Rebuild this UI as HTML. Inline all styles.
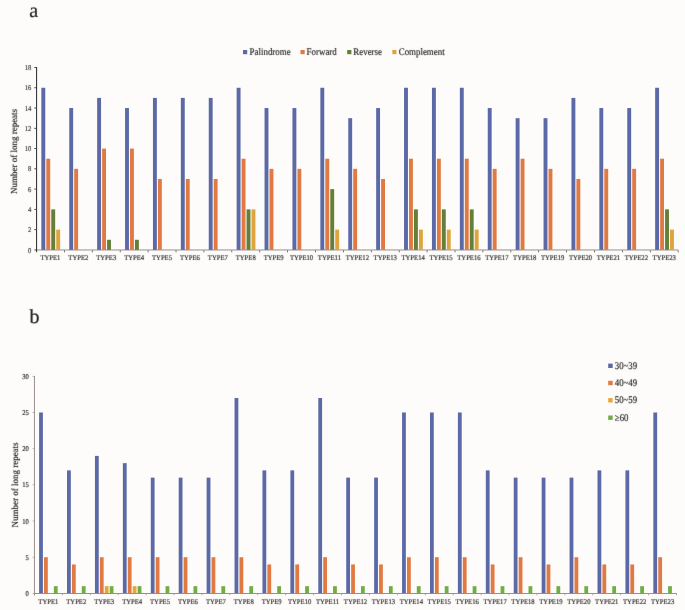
<!DOCTYPE html>
<html><head><meta charset="utf-8"><title>Long repeats</title>
<style>html,body{margin:0;padding:0;background:#fefcfa;}body{width:685px;height:610px;overflow:hidden;font-family:"Liberation Serif",serif;}svg{display:block;}</style>
</head><body>
<svg width="685" height="610" viewBox="0 0 685 610">
<defs><filter id="tf" x="0" y="0" width="685" height="610" filterUnits="userSpaceOnUse" color-interpolation-filters="sRGB"><feColorMatrix type="saturate" values="0"/><feConvolveMatrix order="3" kernelMatrix="0.00524 0.06192 0.00524 0.06192 0.73137 0.06192 0.00524 0.06192 0.00524" preserveAlpha="false"/></filter><filter id="gf" x="0" y="0" width="685" height="610" filterUnits="userSpaceOnUse" color-interpolation-filters="sRGB"><feConvolveMatrix order="3" kernelMatrix="0 0 0 0 1 0 0 0 0" preserveAlpha="false" edgeMode="duplicate"/></filter></defs>
<rect width="685" height="610" fill="#fefcfa"/>
<g>
<rect x="36.5" y="249.2" width="641.7" height="1.5" fill="#b5b5b2"/>
<rect x="41.35" y="87.77" width="3.9" height="162.13" fill="#5b69a7"/>
<rect x="46.31" y="158.7" width="3.9" height="91.2" fill="#e07a42"/>
<rect x="51.27" y="209.37" width="3.9" height="40.53" fill="#657f38"/>
<rect x="56.23" y="229.63" width="3.9" height="20.27" fill="#dea53e"/>
<rect x="69.25" y="108.04" width="3.9" height="141.86" fill="#5b69a7"/>
<rect x="74.21" y="168.84" width="3.9" height="81.06" fill="#e07a42"/>
<rect x="97.15" y="97.91" width="3.9" height="151.99" fill="#5b69a7"/>
<rect x="102.11" y="148.57" width="3.9" height="101.33" fill="#e07a42"/>
<rect x="107.07" y="239.77" width="3.9" height="10.13" fill="#657f38"/>
<rect x="125.05" y="108.04" width="3.9" height="141.86" fill="#5b69a7"/>
<rect x="130.01" y="148.57" width="3.9" height="101.33" fill="#e07a42"/>
<rect x="134.97" y="239.77" width="3.9" height="10.13" fill="#657f38"/>
<rect x="152.95" y="97.91" width="3.9" height="151.99" fill="#5b69a7"/>
<rect x="157.91" y="178.97" width="3.9" height="70.93" fill="#e07a42"/>
<rect x="180.85" y="97.91" width="3.9" height="151.99" fill="#5b69a7"/>
<rect x="185.81" y="178.97" width="3.9" height="70.93" fill="#e07a42"/>
<rect x="208.75" y="97.91" width="3.9" height="151.99" fill="#5b69a7"/>
<rect x="213.71" y="178.97" width="3.9" height="70.93" fill="#e07a42"/>
<rect x="236.65" y="87.77" width="3.9" height="162.13" fill="#5b69a7"/>
<rect x="241.61" y="158.7" width="3.9" height="91.2" fill="#e07a42"/>
<rect x="246.57" y="209.37" width="3.9" height="40.53" fill="#657f38"/>
<rect x="251.53" y="209.37" width="3.9" height="40.53" fill="#dea53e"/>
<rect x="264.55" y="108.04" width="3.9" height="141.86" fill="#5b69a7"/>
<rect x="269.51" y="168.84" width="3.9" height="81.06" fill="#e07a42"/>
<rect x="292.45" y="108.04" width="3.9" height="141.86" fill="#5b69a7"/>
<rect x="297.41" y="168.84" width="3.9" height="81.06" fill="#e07a42"/>
<rect x="320.35" y="87.77" width="3.9" height="162.13" fill="#5b69a7"/>
<rect x="325.31" y="158.7" width="3.9" height="91.2" fill="#e07a42"/>
<rect x="330.27" y="189.1" width="3.9" height="60.8" fill="#657f38"/>
<rect x="335.23" y="229.63" width="3.9" height="20.27" fill="#dea53e"/>
<rect x="348.25" y="118.17" width="3.9" height="131.73" fill="#5b69a7"/>
<rect x="353.21" y="168.84" width="3.9" height="81.06" fill="#e07a42"/>
<rect x="376.15" y="108.04" width="3.9" height="141.86" fill="#5b69a7"/>
<rect x="381.11" y="178.97" width="3.9" height="70.93" fill="#e07a42"/>
<rect x="404.05" y="87.77" width="3.9" height="162.13" fill="#5b69a7"/>
<rect x="409.01" y="158.7" width="3.9" height="91.2" fill="#e07a42"/>
<rect x="413.97" y="209.37" width="3.9" height="40.53" fill="#657f38"/>
<rect x="418.93" y="229.63" width="3.9" height="20.27" fill="#dea53e"/>
<rect x="431.95" y="87.77" width="3.9" height="162.13" fill="#5b69a7"/>
<rect x="436.91" y="158.7" width="3.9" height="91.2" fill="#e07a42"/>
<rect x="441.87" y="209.37" width="3.9" height="40.53" fill="#657f38"/>
<rect x="446.83" y="229.63" width="3.9" height="20.27" fill="#dea53e"/>
<rect x="459.85" y="87.77" width="3.9" height="162.13" fill="#5b69a7"/>
<rect x="464.81" y="158.7" width="3.9" height="91.2" fill="#e07a42"/>
<rect x="469.77" y="209.37" width="3.9" height="40.53" fill="#657f38"/>
<rect x="474.73" y="229.63" width="3.9" height="20.27" fill="#dea53e"/>
<rect x="487.75" y="108.04" width="3.9" height="141.86" fill="#5b69a7"/>
<rect x="492.71" y="168.84" width="3.9" height="81.06" fill="#e07a42"/>
<rect x="515.65" y="118.17" width="3.9" height="131.73" fill="#5b69a7"/>
<rect x="520.61" y="158.7" width="3.9" height="91.2" fill="#e07a42"/>
<rect x="543.55" y="118.17" width="3.9" height="131.73" fill="#5b69a7"/>
<rect x="548.51" y="168.84" width="3.9" height="81.06" fill="#e07a42"/>
<rect x="571.45" y="97.91" width="3.9" height="151.99" fill="#5b69a7"/>
<rect x="576.41" y="178.97" width="3.9" height="70.93" fill="#e07a42"/>
<rect x="599.35" y="108.04" width="3.9" height="141.86" fill="#5b69a7"/>
<rect x="604.31" y="168.84" width="3.9" height="81.06" fill="#e07a42"/>
<rect x="627.25" y="108.04" width="3.9" height="141.86" fill="#5b69a7"/>
<rect x="632.21" y="168.84" width="3.9" height="81.06" fill="#e07a42"/>
<rect x="655.15" y="87.77" width="3.9" height="162.13" fill="#5b69a7"/>
<rect x="660.11" y="158.7" width="3.9" height="91.2" fill="#e07a42"/>
<rect x="665.07" y="209.37" width="3.9" height="40.53" fill="#657f38"/>
<rect x="670.03" y="229.63" width="3.9" height="20.27" fill="#dea53e"/>
<rect x="36.1" y="250.4" width="0.8" height="1.9" fill="#4a4a4a"/>
<rect x="64" y="250.4" width="0.8" height="1.9" fill="#4a4a4a"/>
<rect x="91.9" y="250.4" width="0.8" height="1.9" fill="#4a4a4a"/>
<rect x="119.8" y="250.4" width="0.8" height="1.9" fill="#4a4a4a"/>
<rect x="147.7" y="250.4" width="0.8" height="1.9" fill="#4a4a4a"/>
<rect x="175.6" y="250.4" width="0.8" height="1.9" fill="#4a4a4a"/>
<rect x="203.5" y="250.4" width="0.8" height="1.9" fill="#4a4a4a"/>
<rect x="231.4" y="250.4" width="0.8" height="1.9" fill="#4a4a4a"/>
<rect x="259.3" y="250.4" width="0.8" height="1.9" fill="#4a4a4a"/>
<rect x="287.2" y="250.4" width="0.8" height="1.9" fill="#4a4a4a"/>
<rect x="315.1" y="250.4" width="0.8" height="1.9" fill="#4a4a4a"/>
<rect x="343" y="250.4" width="0.8" height="1.9" fill="#4a4a4a"/>
<rect x="370.9" y="250.4" width="0.8" height="1.9" fill="#4a4a4a"/>
<rect x="398.8" y="250.4" width="0.8" height="1.9" fill="#4a4a4a"/>
<rect x="426.7" y="250.4" width="0.8" height="1.9" fill="#4a4a4a"/>
<rect x="454.6" y="250.4" width="0.8" height="1.9" fill="#4a4a4a"/>
<rect x="482.5" y="250.4" width="0.8" height="1.9" fill="#4a4a4a"/>
<rect x="510.4" y="250.4" width="0.8" height="1.9" fill="#4a4a4a"/>
<rect x="538.3" y="250.4" width="0.8" height="1.9" fill="#4a4a4a"/>
<rect x="566.2" y="250.4" width="0.8" height="1.9" fill="#4a4a4a"/>
<rect x="594.1" y="250.4" width="0.8" height="1.9" fill="#4a4a4a"/>
<rect x="622" y="250.4" width="0.8" height="1.9" fill="#4a4a4a"/>
<rect x="649.9" y="250.4" width="0.8" height="1.9" fill="#4a4a4a"/>
<rect x="677.8" y="250.4" width="0.8" height="1.9" fill="#4a4a4a"/>
<rect x="36" y="67" width="1.1" height="185" fill="#3a3a3a"/>
<rect x="34.3" y="249.45" width="2.2" height="0.9" fill="#3a3a3a"/>
<rect x="34.3" y="229.18" width="2.2" height="0.9" fill="#3a3a3a"/>
<rect x="34.3" y="208.92" width="2.2" height="0.9" fill="#3a3a3a"/>
<rect x="34.3" y="188.65" width="2.2" height="0.9" fill="#3a3a3a"/>
<rect x="34.3" y="168.39" width="2.2" height="0.9" fill="#3a3a3a"/>
<rect x="34.3" y="148.12" width="2.2" height="0.9" fill="#3a3a3a"/>
<rect x="34.3" y="127.85" width="2.2" height="0.9" fill="#3a3a3a"/>
<rect x="34.3" y="107.59" width="2.2" height="0.9" fill="#3a3a3a"/>
<rect x="34.3" y="87.32" width="2.2" height="0.9" fill="#3a3a3a"/>
<rect x="34.3" y="67.06" width="2.2" height="0.9" fill="#3a3a3a"/>
<rect x="39.1" y="412.47" width="3.8" height="180.93" fill="#5b69a7"/>
<rect x="44.02" y="557.21" width="3.8" height="36.19" fill="#e07a42"/>
<rect x="53.86" y="586.16" width="3.8" height="7.24" fill="#6fae45"/>
<rect x="67.02" y="470.37" width="3.8" height="123.03" fill="#5b69a7"/>
<rect x="71.94" y="564.45" width="3.8" height="28.95" fill="#e07a42"/>
<rect x="81.78" y="586.16" width="3.8" height="7.24" fill="#6fae45"/>
<rect x="94.94" y="455.9" width="3.8" height="137.5" fill="#5b69a7"/>
<rect x="99.86" y="557.21" width="3.8" height="36.19" fill="#e07a42"/>
<rect x="104.78" y="586.16" width="3.8" height="7.24" fill="#e3a83c"/>
<rect x="109.7" y="586.16" width="3.8" height="7.24" fill="#6fae45"/>
<rect x="122.86" y="463.13" width="3.8" height="130.27" fill="#5b69a7"/>
<rect x="127.78" y="557.21" width="3.8" height="36.19" fill="#e07a42"/>
<rect x="132.7" y="586.16" width="3.8" height="7.24" fill="#e3a83c"/>
<rect x="137.62" y="586.16" width="3.8" height="7.24" fill="#6fae45"/>
<rect x="150.78" y="477.61" width="3.8" height="115.79" fill="#5b69a7"/>
<rect x="155.7" y="557.21" width="3.8" height="36.19" fill="#e07a42"/>
<rect x="165.54" y="586.16" width="3.8" height="7.24" fill="#6fae45"/>
<rect x="178.7" y="477.61" width="3.8" height="115.79" fill="#5b69a7"/>
<rect x="183.62" y="557.21" width="3.8" height="36.19" fill="#e07a42"/>
<rect x="193.46" y="586.16" width="3.8" height="7.24" fill="#6fae45"/>
<rect x="206.62" y="477.61" width="3.8" height="115.79" fill="#5b69a7"/>
<rect x="211.54" y="557.21" width="3.8" height="36.19" fill="#e07a42"/>
<rect x="221.38" y="586.16" width="3.8" height="7.24" fill="#6fae45"/>
<rect x="234.54" y="398" width="3.8" height="195.4" fill="#5b69a7"/>
<rect x="239.46" y="557.21" width="3.8" height="36.19" fill="#e07a42"/>
<rect x="249.3" y="586.16" width="3.8" height="7.24" fill="#6fae45"/>
<rect x="262.46" y="470.37" width="3.8" height="123.03" fill="#5b69a7"/>
<rect x="267.38" y="564.45" width="3.8" height="28.95" fill="#e07a42"/>
<rect x="277.22" y="586.16" width="3.8" height="7.24" fill="#6fae45"/>
<rect x="290.38" y="470.37" width="3.8" height="123.03" fill="#5b69a7"/>
<rect x="295.3" y="564.45" width="3.8" height="28.95" fill="#e07a42"/>
<rect x="305.14" y="586.16" width="3.8" height="7.24" fill="#6fae45"/>
<rect x="318.3" y="398" width="3.8" height="195.4" fill="#5b69a7"/>
<rect x="323.22" y="557.21" width="3.8" height="36.19" fill="#e07a42"/>
<rect x="333.06" y="586.16" width="3.8" height="7.24" fill="#6fae45"/>
<rect x="346.22" y="477.61" width="3.8" height="115.79" fill="#5b69a7"/>
<rect x="351.14" y="564.45" width="3.8" height="28.95" fill="#e07a42"/>
<rect x="360.98" y="586.16" width="3.8" height="7.24" fill="#6fae45"/>
<rect x="374.14" y="477.61" width="3.8" height="115.79" fill="#5b69a7"/>
<rect x="379.06" y="564.45" width="3.8" height="28.95" fill="#e07a42"/>
<rect x="388.9" y="586.16" width="3.8" height="7.24" fill="#6fae45"/>
<rect x="402.06" y="412.47" width="3.8" height="180.93" fill="#5b69a7"/>
<rect x="406.98" y="557.21" width="3.8" height="36.19" fill="#e07a42"/>
<rect x="416.82" y="586.16" width="3.8" height="7.24" fill="#6fae45"/>
<rect x="429.98" y="412.47" width="3.8" height="180.93" fill="#5b69a7"/>
<rect x="434.9" y="557.21" width="3.8" height="36.19" fill="#e07a42"/>
<rect x="444.74" y="586.16" width="3.8" height="7.24" fill="#6fae45"/>
<rect x="457.9" y="412.47" width="3.8" height="180.93" fill="#5b69a7"/>
<rect x="462.82" y="557.21" width="3.8" height="36.19" fill="#e07a42"/>
<rect x="472.66" y="586.16" width="3.8" height="7.24" fill="#6fae45"/>
<rect x="485.82" y="470.37" width="3.8" height="123.03" fill="#5b69a7"/>
<rect x="490.74" y="564.45" width="3.8" height="28.95" fill="#e07a42"/>
<rect x="500.58" y="586.16" width="3.8" height="7.24" fill="#6fae45"/>
<rect x="513.74" y="477.61" width="3.8" height="115.79" fill="#5b69a7"/>
<rect x="518.66" y="557.21" width="3.8" height="36.19" fill="#e07a42"/>
<rect x="528.5" y="586.16" width="3.8" height="7.24" fill="#6fae45"/>
<rect x="541.66" y="477.61" width="3.8" height="115.79" fill="#5b69a7"/>
<rect x="546.58" y="564.45" width="3.8" height="28.95" fill="#e07a42"/>
<rect x="556.42" y="586.16" width="3.8" height="7.24" fill="#6fae45"/>
<rect x="569.58" y="477.61" width="3.8" height="115.79" fill="#5b69a7"/>
<rect x="574.5" y="557.21" width="3.8" height="36.19" fill="#e07a42"/>
<rect x="584.34" y="586.16" width="3.8" height="7.24" fill="#6fae45"/>
<rect x="597.5" y="470.37" width="3.8" height="123.03" fill="#5b69a7"/>
<rect x="602.42" y="564.45" width="3.8" height="28.95" fill="#e07a42"/>
<rect x="612.26" y="586.16" width="3.8" height="7.24" fill="#6fae45"/>
<rect x="625.42" y="470.37" width="3.8" height="123.03" fill="#5b69a7"/>
<rect x="630.34" y="564.45" width="3.8" height="28.95" fill="#e07a42"/>
<rect x="640.18" y="586.16" width="3.8" height="7.24" fill="#6fae45"/>
<rect x="653.34" y="412.47" width="3.8" height="180.93" fill="#5b69a7"/>
<rect x="658.26" y="557.21" width="3.8" height="36.19" fill="#e07a42"/>
<rect x="668.1" y="586.16" width="3.8" height="7.24" fill="#6fae45"/>
<rect x="34.4" y="593" width="642.16" height="0.9" fill="#8f8482"/>
<rect x="34" y="593.4" width="0.8" height="1.9" fill="#a09492"/>
<rect x="61.92" y="593.4" width="0.8" height="1.9" fill="#a09492"/>
<rect x="89.84" y="593.4" width="0.8" height="1.9" fill="#a09492"/>
<rect x="117.76" y="593.4" width="0.8" height="1.9" fill="#a09492"/>
<rect x="145.68" y="593.4" width="0.8" height="1.9" fill="#a09492"/>
<rect x="173.6" y="593.4" width="0.8" height="1.9" fill="#a09492"/>
<rect x="201.52" y="593.4" width="0.8" height="1.9" fill="#a09492"/>
<rect x="229.44" y="593.4" width="0.8" height="1.9" fill="#a09492"/>
<rect x="257.36" y="593.4" width="0.8" height="1.9" fill="#a09492"/>
<rect x="285.28" y="593.4" width="0.8" height="1.9" fill="#a09492"/>
<rect x="313.2" y="593.4" width="0.8" height="1.9" fill="#a09492"/>
<rect x="341.12" y="593.4" width="0.8" height="1.9" fill="#a09492"/>
<rect x="369.04" y="593.4" width="0.8" height="1.9" fill="#a09492"/>
<rect x="396.96" y="593.4" width="0.8" height="1.9" fill="#a09492"/>
<rect x="424.88" y="593.4" width="0.8" height="1.9" fill="#a09492"/>
<rect x="452.8" y="593.4" width="0.8" height="1.9" fill="#a09492"/>
<rect x="480.72" y="593.4" width="0.8" height="1.9" fill="#a09492"/>
<rect x="508.64" y="593.4" width="0.8" height="1.9" fill="#a09492"/>
<rect x="536.56" y="593.4" width="0.8" height="1.9" fill="#a09492"/>
<rect x="564.48" y="593.4" width="0.8" height="1.9" fill="#a09492"/>
<rect x="592.4" y="593.4" width="0.8" height="1.9" fill="#a09492"/>
<rect x="620.32" y="593.4" width="0.8" height="1.9" fill="#a09492"/>
<rect x="648.24" y="593.4" width="0.8" height="1.9" fill="#a09492"/>
<rect x="676.16" y="593.4" width="0.8" height="1.9" fill="#a09492"/>
<rect x="33.95" y="376" width="0.9" height="219.4" fill="#8f8482"/>
<rect x="32.6" y="593" width="1.8" height="0.8" fill="#a89c9a"/>
<rect x="32.6" y="556.81" width="1.8" height="0.8" fill="#a89c9a"/>
<rect x="32.6" y="520.63" width="1.8" height="0.8" fill="#a89c9a"/>
<rect x="32.6" y="484.44" width="1.8" height="0.8" fill="#a89c9a"/>
<rect x="32.6" y="448.26" width="1.8" height="0.8" fill="#a89c9a"/>
<rect x="32.6" y="412.07" width="1.8" height="0.8" fill="#a89c9a"/>
<rect x="32.6" y="375.89" width="1.8" height="0.8" fill="#a89c9a"/>
<rect x="608.2" y="363.6" width="4.5" height="4.4" fill="#5b69a7"/>
<rect x="608.2" y="380.8" width="4.5" height="4.4" fill="#e07a42"/>
<rect x="608.2" y="398.1" width="4.5" height="4.4" fill="#e3a83c"/>
<rect x="608.2" y="415.5" width="4.5" height="4.4" fill="#6fae45"/>
<rect x="243" y="50" width="4.2" height="4.2" fill="#5b69a7"/>
<rect x="300.5" y="50" width="4.2" height="4.2" fill="#e07a42"/>
<rect x="347.2" y="50" width="4.2" height="4.2" fill="#657f38"/>
<rect x="392.3" y="50" width="4.2" height="4.2" fill="#dea53e"/>
<g font-family="Liberation Serif" fill="#1e1e1e" stroke="#1e1e1e" stroke-width="0.16" filter="url(#tf)" text-rendering="geometricPrecision">
<text x="31.3" y="252.5" font-size="7.4" textLength="3.3" lengthAdjust="spacingAndGlyphs" text-anchor="end" stroke-width="0.14" fill="#2a2a2a" stroke="#2a2a2a" >0</text>
<text x="31.3" y="232.23" font-size="7.4" textLength="3.3" lengthAdjust="spacingAndGlyphs" text-anchor="end" stroke-width="0.14" fill="#2a2a2a" stroke="#2a2a2a" >2</text>
<text x="31.3" y="211.97" font-size="7.4" textLength="3.3" lengthAdjust="spacingAndGlyphs" text-anchor="end" stroke-width="0.14" fill="#2a2a2a" stroke="#2a2a2a" >4</text>
<text x="31.3" y="191.7" font-size="7.4" textLength="3.3" lengthAdjust="spacingAndGlyphs" text-anchor="end" stroke-width="0.14" fill="#2a2a2a" stroke="#2a2a2a" >6</text>
<text x="31.3" y="171.44" font-size="7.4" textLength="3.3" lengthAdjust="spacingAndGlyphs" text-anchor="end" stroke-width="0.14" fill="#2a2a2a" stroke="#2a2a2a" >8</text>
<text x="31.3" y="151.17" font-size="7.4" textLength="6.6" lengthAdjust="spacingAndGlyphs" text-anchor="end" stroke-width="0.14" fill="#2a2a2a" stroke="#2a2a2a" >10</text>
<text x="31.3" y="130.9" font-size="7.4" textLength="6.6" lengthAdjust="spacingAndGlyphs" text-anchor="end" stroke-width="0.14" fill="#2a2a2a" stroke="#2a2a2a" >12</text>
<text x="31.3" y="110.64" font-size="7.4" textLength="6.6" lengthAdjust="spacingAndGlyphs" text-anchor="end" stroke-width="0.14" fill="#2a2a2a" stroke="#2a2a2a" >14</text>
<text x="31.3" y="90.37" font-size="7.4" textLength="6.6" lengthAdjust="spacingAndGlyphs" text-anchor="end" stroke-width="0.14" fill="#2a2a2a" stroke="#2a2a2a" >16</text>
<text x="31.3" y="70.11" font-size="7.4" textLength="6.6" lengthAdjust="spacingAndGlyphs" text-anchor="end" stroke-width="0.14" fill="#2a2a2a" stroke="#2a2a2a" >18</text>
<text x="50.45" y="260.3" font-size="7.3" textLength="19.98" lengthAdjust="spacingAndGlyphs" text-anchor="middle" >TYPE1</text>
<text x="78.35" y="260.3" font-size="7.3" textLength="19.98" lengthAdjust="spacingAndGlyphs" text-anchor="middle" >TYPE2</text>
<text x="106.25" y="260.3" font-size="7.3" textLength="19.98" lengthAdjust="spacingAndGlyphs" text-anchor="middle" >TYPE3</text>
<text x="134.15" y="260.3" font-size="7.3" textLength="19.98" lengthAdjust="spacingAndGlyphs" text-anchor="middle" >TYPE4</text>
<text x="162.05" y="260.3" font-size="7.3" textLength="19.98" lengthAdjust="spacingAndGlyphs" text-anchor="middle" >TYPE5</text>
<text x="189.95" y="260.3" font-size="7.3" textLength="19.98" lengthAdjust="spacingAndGlyphs" text-anchor="middle" >TYPE6</text>
<text x="217.85" y="260.3" font-size="7.3" textLength="19.98" lengthAdjust="spacingAndGlyphs" text-anchor="middle" >TYPE7</text>
<text x="245.75" y="260.3" font-size="7.3" textLength="19.98" lengthAdjust="spacingAndGlyphs" text-anchor="middle" >TYPE8</text>
<text x="273.65" y="260.3" font-size="7.3" textLength="19.98" lengthAdjust="spacingAndGlyphs" text-anchor="middle" >TYPE9</text>
<text x="301.55" y="260.3" font-size="7.3" textLength="23.31" lengthAdjust="spacingAndGlyphs" text-anchor="middle" >TYPE10</text>
<text x="329.45" y="260.3" font-size="7.3" textLength="23.31" lengthAdjust="spacingAndGlyphs" text-anchor="middle" >TYPE11</text>
<text x="357.35" y="260.3" font-size="7.3" textLength="23.31" lengthAdjust="spacingAndGlyphs" text-anchor="middle" >TYPE12</text>
<text x="385.25" y="260.3" font-size="7.3" textLength="23.31" lengthAdjust="spacingAndGlyphs" text-anchor="middle" >TYPE13</text>
<text x="413.15" y="260.3" font-size="7.3" textLength="23.31" lengthAdjust="spacingAndGlyphs" text-anchor="middle" >TYPE14</text>
<text x="441.05" y="260.3" font-size="7.3" textLength="23.31" lengthAdjust="spacingAndGlyphs" text-anchor="middle" >TYPE15</text>
<text x="468.95" y="260.3" font-size="7.3" textLength="23.31" lengthAdjust="spacingAndGlyphs" text-anchor="middle" >TYPE16</text>
<text x="496.85" y="260.3" font-size="7.3" textLength="23.31" lengthAdjust="spacingAndGlyphs" text-anchor="middle" >TYPE17</text>
<text x="524.75" y="260.3" font-size="7.3" textLength="23.31" lengthAdjust="spacingAndGlyphs" text-anchor="middle" >TYPE18</text>
<text x="552.65" y="260.3" font-size="7.3" textLength="23.31" lengthAdjust="spacingAndGlyphs" text-anchor="middle" >TYPE19</text>
<text x="580.55" y="260.3" font-size="7.3" textLength="23.31" lengthAdjust="spacingAndGlyphs" text-anchor="middle" >TYPE20</text>
<text x="608.45" y="260.3" font-size="7.3" textLength="23.31" lengthAdjust="spacingAndGlyphs" text-anchor="middle" >TYPE21</text>
<text x="636.35" y="260.3" font-size="7.3" textLength="23.31" lengthAdjust="spacingAndGlyphs" text-anchor="middle" >TYPE22</text>
<text x="664.25" y="260.3" font-size="7.3" textLength="23.31" lengthAdjust="spacingAndGlyphs" text-anchor="middle" >TYPE23</text>
<text x="0" y="0" font-size="9.2" textLength="85.23" lengthAdjust="spacingAndGlyphs" text-anchor="middle" transform="translate(17.1,151.5) rotate(-90)">Number of long repeats</text>
<text x="249.6" y="54.6" font-size="10.0" textLength="41.04" lengthAdjust="spacingAndGlyphs" text-anchor="start" >Palindrome</text>
<text x="306.6" y="54.6" font-size="10.0" textLength="30.16" lengthAdjust="spacingAndGlyphs" text-anchor="start" >Forward</text>
<text x="353.3" y="54.6" font-size="10.0" textLength="28.67" lengthAdjust="spacingAndGlyphs" text-anchor="start" >Reverse</text>
<text x="398.7" y="54.6" font-size="10.0" textLength="45.99" lengthAdjust="spacingAndGlyphs" text-anchor="start" >Complement</text>
<text font-size="20.2" x="29.2" y="16.9" stroke-width="0.2">a</text>
<text x="28.8" y="596" font-size="7.4" textLength="3.3" lengthAdjust="spacingAndGlyphs" text-anchor="end" stroke-width="0.18" fill="#262626" stroke="#262626" >0</text>
<text x="28.8" y="559.81" font-size="7.4" textLength="3.3" lengthAdjust="spacingAndGlyphs" text-anchor="end" stroke-width="0.18" fill="#262626" stroke="#262626" >5</text>
<text x="28.8" y="523.63" font-size="7.4" textLength="6.6" lengthAdjust="spacingAndGlyphs" text-anchor="end" stroke-width="0.18" fill="#262626" stroke="#262626" >10</text>
<text x="28.8" y="487.44" font-size="7.4" textLength="6.6" lengthAdjust="spacingAndGlyphs" text-anchor="end" stroke-width="0.18" fill="#262626" stroke="#262626" >15</text>
<text x="28.8" y="451.26" font-size="7.4" textLength="6.6" lengthAdjust="spacingAndGlyphs" text-anchor="end" stroke-width="0.18" fill="#262626" stroke="#262626" >20</text>
<text x="28.8" y="415.07" font-size="7.4" textLength="6.6" lengthAdjust="spacingAndGlyphs" text-anchor="end" stroke-width="0.18" fill="#262626" stroke="#262626" >25</text>
<text x="28.8" y="378.89" font-size="7.4" textLength="6.6" lengthAdjust="spacingAndGlyphs" text-anchor="end" stroke-width="0.18" fill="#262626" stroke="#262626" >30</text>
<text x="48.36" y="603.8" font-size="7.3" textLength="19.98" lengthAdjust="spacingAndGlyphs" text-anchor="middle" >TYPE1</text>
<text x="76.28" y="603.8" font-size="7.3" textLength="19.98" lengthAdjust="spacingAndGlyphs" text-anchor="middle" >TYPE2</text>
<text x="104.2" y="603.8" font-size="7.3" textLength="19.98" lengthAdjust="spacingAndGlyphs" text-anchor="middle" >TYPE3</text>
<text x="132.12" y="603.8" font-size="7.3" textLength="19.98" lengthAdjust="spacingAndGlyphs" text-anchor="middle" >TYPE4</text>
<text x="160.04" y="603.8" font-size="7.3" textLength="19.98" lengthAdjust="spacingAndGlyphs" text-anchor="middle" >TYPE5</text>
<text x="187.96" y="603.8" font-size="7.3" textLength="19.98" lengthAdjust="spacingAndGlyphs" text-anchor="middle" >TYPE6</text>
<text x="215.88" y="603.8" font-size="7.3" textLength="19.98" lengthAdjust="spacingAndGlyphs" text-anchor="middle" >TYPE7</text>
<text x="243.8" y="603.8" font-size="7.3" textLength="19.98" lengthAdjust="spacingAndGlyphs" text-anchor="middle" >TYPE8</text>
<text x="271.72" y="603.8" font-size="7.3" textLength="19.98" lengthAdjust="spacingAndGlyphs" text-anchor="middle" >TYPE9</text>
<text x="299.64" y="603.8" font-size="7.3" textLength="23.31" lengthAdjust="spacingAndGlyphs" text-anchor="middle" >TYPE10</text>
<text x="327.56" y="603.8" font-size="7.3" textLength="23.31" lengthAdjust="spacingAndGlyphs" text-anchor="middle" >TYPE11</text>
<text x="355.48" y="603.8" font-size="7.3" textLength="23.31" lengthAdjust="spacingAndGlyphs" text-anchor="middle" >TYPE12</text>
<text x="383.4" y="603.8" font-size="7.3" textLength="23.31" lengthAdjust="spacingAndGlyphs" text-anchor="middle" >TYPE13</text>
<text x="411.32" y="603.8" font-size="7.3" textLength="23.31" lengthAdjust="spacingAndGlyphs" text-anchor="middle" >TYPE14</text>
<text x="439.24" y="603.8" font-size="7.3" textLength="23.31" lengthAdjust="spacingAndGlyphs" text-anchor="middle" >TYPE15</text>
<text x="467.16" y="603.8" font-size="7.3" textLength="23.31" lengthAdjust="spacingAndGlyphs" text-anchor="middle" >TYPE16</text>
<text x="495.08" y="603.8" font-size="7.3" textLength="23.31" lengthAdjust="spacingAndGlyphs" text-anchor="middle" >TYPE17</text>
<text x="523" y="603.8" font-size="7.3" textLength="23.31" lengthAdjust="spacingAndGlyphs" text-anchor="middle" >TYPE18</text>
<text x="550.92" y="603.8" font-size="7.3" textLength="23.31" lengthAdjust="spacingAndGlyphs" text-anchor="middle" >TYPE19</text>
<text x="578.84" y="603.8" font-size="7.3" textLength="23.31" lengthAdjust="spacingAndGlyphs" text-anchor="middle" >TYPE20</text>
<text x="606.76" y="603.8" font-size="7.3" textLength="23.31" lengthAdjust="spacingAndGlyphs" text-anchor="middle" >TYPE21</text>
<text x="634.68" y="603.8" font-size="7.3" textLength="23.31" lengthAdjust="spacingAndGlyphs" text-anchor="middle" >TYPE22</text>
<text x="662.6" y="603.8" font-size="7.3" textLength="23.31" lengthAdjust="spacingAndGlyphs" text-anchor="middle" >TYPE23</text>
<text x="0" y="0" font-size="9.2" textLength="85.23" lengthAdjust="spacingAndGlyphs" text-anchor="middle" transform="translate(18,485) rotate(-90)">Number of long repeats</text>
<text x="614.8" y="368.8" font-size="10.2" textLength="22.37" lengthAdjust="spacingAndGlyphs" text-anchor="start" >30~39</text>
<text x="614.8" y="386" font-size="10.2" textLength="22.37" lengthAdjust="spacingAndGlyphs" text-anchor="start" >40~49</text>
<text x="614.8" y="403.3" font-size="10.2" textLength="22.37" lengthAdjust="spacingAndGlyphs" text-anchor="start" >50~59</text>
<text x="614.8" y="420.7" font-size="10.2" textLength="13.64" lengthAdjust="spacingAndGlyphs" text-anchor="start" >≥60</text>
<text font-size="20" x="29.5" y="323" stroke-width="0.25">b</text>
</g>
</g>
</svg>
</body></html>
